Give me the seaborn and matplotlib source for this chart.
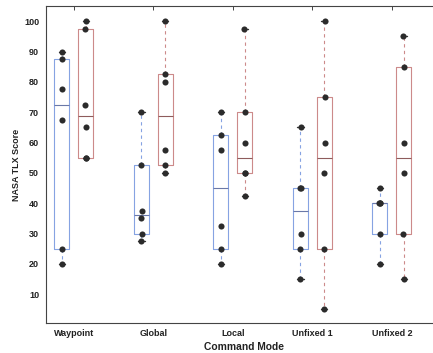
import numpy as np
import pandas as pd
import matplotlib
matplotlib.use("Agg")
import matplotlib.pyplot as plt
import seaborn as sns

# ---- data ----
modes = ["Waypoint", "Global", "Local", "Unfixed 1", "Unfixed 2"]
groups = ["A", "B"]

waypoint_a = [20, 25, 67.5, 77.5, 87.5, 90]
waypoint_b = [55, 55, 65, 72.5, 97.5, 100]
global_a = [27.5, 30, 35, 37.5, 52.5, 70]
global_b = [50, 52.5, 57.5, 80, 82.5, 100]
local_a = [20, 25, 32.5, 57.5, 62.5, 70]
local_b = [42.5, 50, 50, 60, 70, 97.5]
unfixed1_a = [15, 25, 30, 45, 45, 65]
unfixed1_b = [5, 25, 50, 60, 75, 100]
unfixed2_a = [20, 30, 40, 40, 40, 45]
unfixed2_b = [15, 30, 50, 60, 85, 95]

series = {
    ("Waypoint", "A"): waypoint_a, ("Waypoint", "B"): waypoint_b,
    ("Global", "A"): global_a, ("Global", "B"): global_b,
    ("Local", "A"): local_a, ("Local", "B"): local_b,
    ("Unfixed 1", "A"): unfixed1_a, ("Unfixed 1", "B"): unfixed1_b,
    ("Unfixed 2", "A"): unfixed2_a, ("Unfixed 2", "B"): unfixed2_b,
}

rows = []
for (m, g), vals in series.items():
    for v in vals:
        rows.append({"mode": m, "group": g, "score": v})
df = pd.DataFrame(rows)

# ---- style ----
sns.set_theme(style="white")
plt.rcParams["font.family"] = ["Liberation Sans", "DejaVu Sans"]

box_col = {"A": "#86a3e2", "B": "#cc8a8a"}
med_col = {"A": "#6a78a8", "B": "#8e5c5c"}
offset = {"A": -0.15, "B": 0.15}

fig = plt.figure(figsize=(4.33, 3.53), dpi=100)
ax = fig.add_axes([46 / 433, 30 / 353, 395 / 433, 317 / 353])

# boxes (MATLAB-style quartiles)
for gi, g in enumerate(groups):
    stats = []
    pos = []
    for mi, m in enumerate(modes):
        v = np.asarray(series[(m, g)], dtype=float)
        q1, med, q3 = np.percentile(v, [25, 50, 75], method="hazen")
        iqr = q3 - q1
        lo = v[v >= q1 - 1.5 * iqr].min()
        hi = v[v <= q3 + 1.5 * iqr].max()
        stats.append(dict(med=med, q1=q1, q3=q3, whislo=lo, whishi=hi, fliers=[]))
        pos.append(mi + offset[g])
    ax.bxp(stats, positions=pos, widths=0.19, capwidths=0.08, showfliers=False,
           patch_artist=False, manage_ticks=False,
           boxprops=dict(color=box_col[g], linewidth=0.8),
           medianprops=dict(color=med_col[g], linewidth=0.8),
           whiskerprops=dict(color=box_col[g], linewidth=0.8, linestyle=(0, (3, 3))),
           capprops=dict(color="#333333", linewidth=1.0))

# points
df["x"] = df["mode"].map({m: i for i, m in enumerate(modes)}) + df["group"].map(offset)
sns.stripplot(data=df, x="x", y="score", native_scale=True, jitter=0.02,
              color="#2b2b2b", size=4.4, linewidth=0, ax=ax, orient="v", legend=False)

ax.set_xlim(-0.35, -0.35 + 395 / 79.5)
ax.set_ylim(0.5, 105)
ax.set_xticks(range(len(modes)))
ax.set_xticklabels(modes)
ax.set_yticks(range(10, 101, 10))

ax.tick_params(axis="both", direction="in", length=3, width=0.7, colors="#444444",
               labelsize=6.5, labelcolor="#222222", top=True, right=False)
ax.tick_params(axis="x", pad=4)
ax.tick_params(axis="y", pad=5)
for lab in ax.get_xticklabels() + ax.get_yticklabels():
    lab.set_fontweight("bold")

for s in ax.spines.values():
    s.set_color("#444444")
    s.set_linewidth(0.8)
ax.spines["right"].set_visible(False)

ax.set_xlabel("Command Mode", fontsize=7.4, fontweight="bold", color="#222222", labelpad=3)
ax.set_ylabel("NASA TLX Score", fontsize=6.5, fontweight="bold", color="#222222", labelpad=2)

fig.savefig("out.png", dpi=100)
